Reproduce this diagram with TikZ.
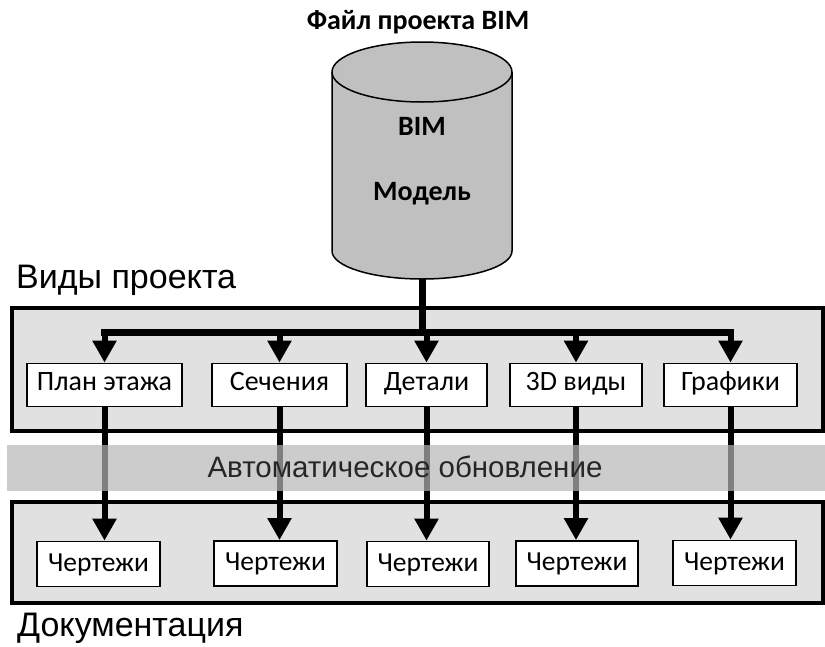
\documentclass[tikz,border=0pt]{standalone}
\usepackage{fontspec}
\setmainfont{Carlito}
\newfontfamily\arialf{Liberation Sans}
\usetikzlibrary{arrows.meta}
\definecolor{panelgray}{RGB}{225,225,225}
\definecolor{cylgray}{RGB}{192,192,192}
\definecolor{bandgray}{RGB}{182,182,182}
\tikzset{
  viewbox/.style={draw=black, line width=1.8pt, fill=white, minimum height=43pt, inner sep=0pt, text height=17pt, text depth=7pt, font=\fontsize{28}{32}\selectfont},
  drawbox/.style={viewbox, minimum height=45pt, text height=20pt, text depth=6pt, font=\fontsize{27.5}{32}\selectfont},
  panelbox/.style={draw=black, line width=4pt, fill=panelgray},
  flow/.style={line width=6pt, -{Triangle[width=23pt,length=22pt]}},
  busline/.style={line width=7pt, line cap=rect},
  biglabel/.style={font=\arialf\fontsize{34}{38}\selectfont, inner sep=0pt},
  cyltext/.style={font=\bfseries\fontsize{28}{32}\selectfont, inner sep=0pt},
}
\begin{document}
\begin{tikzpicture}[x=1pt,y=-1pt]
\useasboundingbox (0,0) rectangle (825,646);
% title
\node[cyltext, anchor=base] (title) at (418,29) {Файл проекта BIM};
% cylinder
\fill[cylgray] (332,72) -- (332,251) arc[start angle=180,end angle=0,x radius=90,y radius=28] -- (512,72) -- cycle;
\fill[cylgray] (422,72) ellipse [x radius=90, y radius=30];
\draw[line width=1.5pt] (332,72) -- (332,251) arc[start angle=180,end angle=0,x radius=90,y radius=28] -- (512,72);
\draw[line width=1.5pt] (422,72) ellipse [x radius=90, y radius=30];
\coordinate (cylb) at (422,279);
\node[cyltext, anchor=base] (bim) at (422,135) {BIM};
\node[cyltext, anchor=base] (model) at (422,200) {Модель};
% labels
\node[biglabel, anchor=base west] (views) at (16,288) {Виды проекта};
\node[biglabel, anchor=base west] (docs) at (17,636) {Документация};
% panels
\draw[panelbox] (12,308) rectangle (823,431);
\draw[panelbox] (12,502) rectangle (823,603);
% view boxes
\node[viewbox, minimum width=155pt] (plan) at (104.5,385) {План этажа};
\node[viewbox, minimum width=135pt] (sec) at (279.5,385) {Сечения};
\node[viewbox, minimum width=121pt] (det) at (426.5,385) {Детали};
\node[viewbox, minimum width=132pt] (tri) at (576,385) {3D виды};
\node[viewbox, minimum width=133pt] (graf) at (730.5,385) {Графики};
% drawing boxes
\node[drawbox, minimum width=123pt] (ch1) at (98.5,564) {Чертежи};
\node[drawbox, minimum width=123pt] (ch2) at (275.5,563.5) {Чертежи};
\node[drawbox, minimum width=122pt] (ch3) at (428,564) {Чертежи};
\node[drawbox, minimum width=122pt] (ch4) at (577,563.5) {Чертежи};
\node[drawbox, minimum width=123pt] (ch5) at (734.5,563) {Чертежи};
% bus and trunk
\coordinate (bus) at (422,332);
\draw[line width=7pt] (cylb) -- (bus);
\draw[busline] (plan.north |- bus) -- (graf.north |- bus);
\foreach \b in {plan,sec,det,tri,graf}
  \draw[flow] (\b.north |- bus) -- (\b.north);
% down arrows
\draw[flow] (plan.south) -- (plan.south |- ch1.north);
\draw[flow] (sec.south) -- (sec.south |- ch2.north);
\draw[flow] (det.south) -- (det.south |- ch3.north);
\draw[flow] (tri.south) -- (tri.south |- ch4.north);
\draw[flow] (graf.south) -- (graf.south |- ch5.north);
% band
\fill[bandgray, opacity=0.7] (7,445) rectangle (825,491);
\node[biglabel, anchor=base, text=black!85, font=\arialf\fontsize{29.5}{33}\selectfont] (auto) at (405,477) {Автоматическое обновление};
\end{tikzpicture}
\end{document}
